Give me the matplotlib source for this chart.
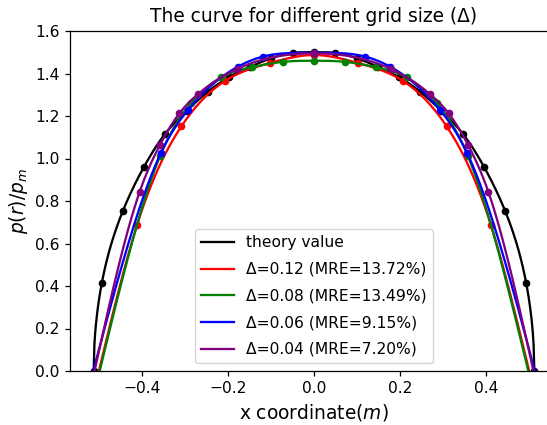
import numpy as np
import matplotlib
matplotlib.use("Agg")
import matplotlib.pyplot as plt

# Theory (Hertz) pressure profile, sampled points
theory_x = [-0.512, -0.493, -0.444, -0.395, -0.346, -0.296, -0.247, -0.198, -0.148, -0.099, -0.049, 0.0,
            0.049, 0.099, 0.148, 0.198, 0.247, 0.296, 0.346, 0.395, 0.444, 0.493, 0.512]
theory_y = [0.0, 0.415, 0.754, 0.961, 1.116, 1.224, 1.314, 1.382, 1.432, 1.472, 1.497, 1.500,
            1.497, 1.472, 1.432, 1.382, 1.314, 1.224, 1.116, 0.961, 0.754, 0.415, 0.0]

# Numerical results for each grid size
red_x = [-0.411, -0.308, -0.206, -0.103, 0.0, 0.103, 0.206, 0.308, 0.411]
red_y = [0.688, 1.152, 1.366, 1.449, 1.487, 1.449, 1.366, 1.152, 0.688]
red_edge = 0.500

green_x = [-0.358, -0.286, -0.215, -0.143, -0.0715, 0.0, 0.0715, 0.143, 0.215, 0.286, 0.358]
green_y = [1.010, 1.260, 1.382, 1.430, 1.455, 1.460, 1.455, 1.430, 1.382, 1.260, 1.010]
green_edge = 0.498

blue_x = [-0.356, -0.293, -0.177, -0.118, 0.0, 0.118, 0.177, 0.293, 0.356]
blue_y = [1.025, 1.228, 1.432, 1.480, 1.497, 1.480, 1.432, 1.228, 1.025]
blue_edge = 0.513

purple_x = [-0.405, -0.358, -0.313, -0.270, -0.180, 0.0, 0.180, 0.270, 0.313, 0.358, 0.405]
purple_y = [0.844, 1.064, 1.212, 1.302, 1.420, 1.495, 1.420, 1.302, 1.212, 1.064, 0.844]
purple_edge = 0.510

labels = ["theory value",
          "Δ=0.12 (MRE=13.72%)",
          "Δ=0.08 (MRE=13.49%)",
          "Δ=0.06 (MRE=9.15%)",
          "Δ=0.04 (MRE=7.20%)"]


def natural_spline(xk, yk, xs):
    xk = np.asarray(xk, float)
    yk = np.asarray(yk, float)
    n = len(xk)
    h = np.diff(xk)
    A = np.zeros((n, n))
    b = np.zeros(n)
    A[0, 0] = A[-1, -1] = 1.0
    for i in range(1, n - 1):
        A[i, i - 1] = h[i - 1]
        A[i, i] = 2 * (h[i - 1] + h[i])
        A[i, i + 1] = h[i]
        b[i] = 3 * ((yk[i + 1] - yk[i]) / h[i] - (yk[i] - yk[i - 1]) / h[i - 1])
    c = np.linalg.solve(A, b)
    idx = np.clip(np.searchsorted(xk, xs) - 1, 0, n - 2)
    dx = xs - xk[idx]
    bb = (yk[idx + 1] - yk[idx]) / h[idx] - h[idx] * (2 * c[idx] + c[idx + 1]) / 3
    d = (c[idx + 1] - c[idx]) / (3 * h[idx])
    return yk[idx] + bb * dx + c[idx] * dx ** 2 + d * dx ** 3


LW = 1.65
MS = 4.5

fig = plt.figure(figsize=(5.47, 4.25), dpi=100)
ax = fig.add_axes([70 / 547, 54 / 425, 488 / 547, 340 / 425])

# theory curve: smooth in p^2, which is quadratic in x for the Hertz profile
xs = np.linspace(theory_x[0], theory_x[-1], 600)
ys = np.sqrt(np.clip(natural_spline(theory_x, np.square(theory_y), xs), 0, None))
ax.plot(xs, ys, color="black", lw=LW, label=labels[0])
ax.plot(theory_x, theory_y, "o", color="black", ms=MS)

series = [(red_x, red_y, red_edge, "red", labels[1]),
          (green_x, green_y, green_edge, "green", labels[2]),
          (blue_x, blue_y, blue_edge, "blue", labels[3]),
          (purple_x, purple_y, purple_edge, "purple", labels[4])]
for sx, sy, edge, col, lab in series:
    kx = [-edge] + list(sx) + [edge]
    ky = [0.0] + list(sy) + [0.0]
    xs = np.linspace(-edge, edge, 600)
    ax.plot(xs, natural_spline(kx, ky, xs), color=col, lw=LW, label=lab)
    ax.plot(sx, sy, "o", color=col, ms=MS)

ax.set_xlim(-0.567, 0.567)
ax.set_ylim(0, 1.6)
ax.spines["right"].set_visible(False)
ax.set_xticks([-0.4, -0.2, 0.0, 0.2, 0.4])
ax.set_yticks(np.arange(0, 1.61, 0.2))
ax.tick_params(labelsize=11.2, width=0.9, length=3.9)
for s in ax.spines.values():
    s.set_linewidth(0.9)
ax.set_title("The curve for different grid size (Δ)", fontsize=13.4, pad=6.5)
ax.set_xlabel("x coordinate($m$)", fontsize=13.4, labelpad=4)
ax.set_ylabel("$p(r)/p_m$", fontsize=13.4, labelpad=4)
ax.legend(loc="lower center", fontsize=11.2, handlelength=2.1, labelspacing=0.75)

fig.savefig("out.png", dpi=100)
